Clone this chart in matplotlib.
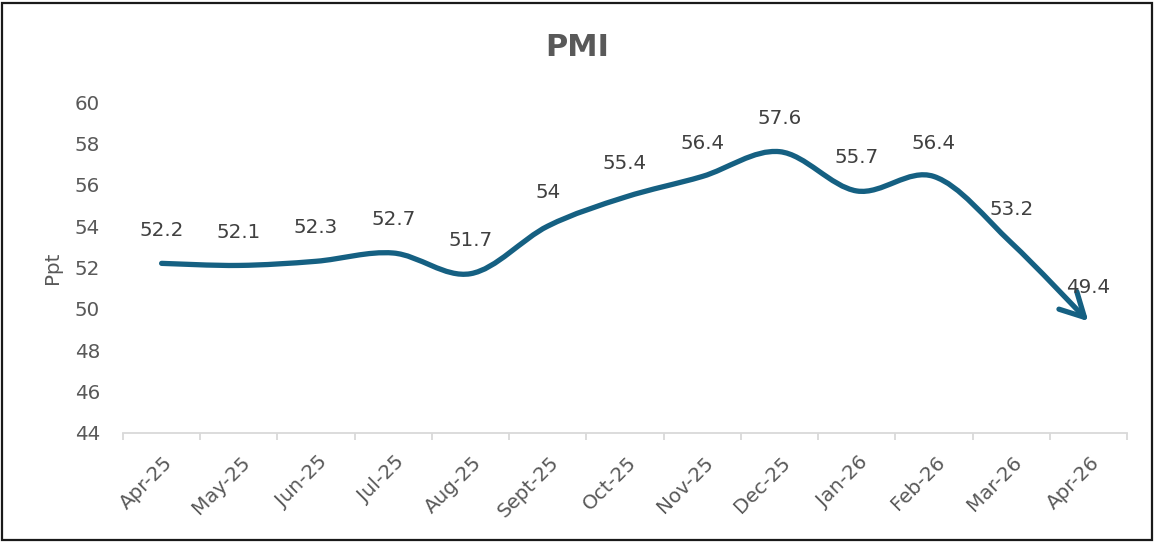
import numpy as np
import matplotlib
matplotlib.use("Agg")
import matplotlib.pyplot as plt
from matplotlib.path import Path
from matplotlib.patches import FancyArrowPatch, Rectangle
from matplotlib.transforms import ScaledTranslation

MONTHS = ["Apr-25", "May-25", "Jun-25", "Jul-25", "Aug-25", "Sept-25", "Oct-25",
          "Nov-25", "Dec-25", "Jan-26", "Feb-26", "Mar-26", "Apr-26"]
PMI = [52.2, 52.1, 52.3, 52.7, 51.7, 54, 55.4, 56.4, 57.6, 55.7, 56.4, 53.2, 49.4]
Y_TICKS = [44, 46, 48, 50, 52, 54, 56, 58, 60]

LINE_COLOR = "#156082"
TEXT_GREY = "#595959"
LABEL_GREY = "#404040"
AXIS_GREY = "#D9D9D9"
FS = 14.3


def smooth_path(xs, ys):
    # Excel style smoothed line: cubic bezier, catmull-rom control points
    pts = np.column_stack([xs, ys]).astype(float)
    padded = np.vstack([pts[0], pts, pts[-1]])
    verts = [pts[0]]
    codes = [Path.MOVETO]
    for i in range(len(pts) - 1):
        p_prev, p0, p1, p_next = padded[i], padded[i + 1], padded[i + 2], padded[i + 3]
        c1 = p0 + (p1 - p_prev) / 6.0
        c2 = p1 - (p_next - p0) / 6.0
        verts += [c1, c2, p1]
        codes += [Path.CURVE4] * 3
    return Path(np.array(verts), codes)


fig = plt.figure(figsize=(11.55, 5.43), dpi=100)
ax = fig.add_axes([123 / 1155, 110 / 543, 1004 / 1155, 331 / 543])

x = np.arange(len(MONTHS))
ax.set_xlim(-0.5, len(MONTHS) - 0.5)
ax.set_ylim(44, 60)

path = smooth_path(x, PMI)
arrow = FancyArrowPatch(path=path, arrowstyle="->,head_length=17,head_width=9",
                        mutation_scale=1, color=LINE_COLOR, linewidth=3.8,
                        capstyle="round", joinstyle="round",
                        transform=ax.transData, clip_on=False)
ax.add_patch(arrow)

for xi, v in zip(x, PMI):
    ax.annotate(f"{v:g}", (xi, v), xytext=(0, 24), textcoords="offset points",
                ha="center", va="center", fontsize=FS, color=LABEL_GREY,
                annotation_clip=False)

# axes styling
for side in ["top", "right", "left"]:
    ax.spines[side].set_visible(False)
ax.spines["bottom"].set_color(AXIS_GREY)
ax.spines["bottom"].set_linewidth(1.3)

ax.set_yticks(Y_TICKS)
ax.tick_params(axis="y", length=0, pad=16.5, labelsize=FS, labelcolor=TEXT_GREY)

ax.set_xticks(x)
ax.set_xticklabels(MONTHS)
ax.set_xticks(np.arange(-0.5, len(MONTHS)), minor=True)
ax.tick_params(axis="x", which="major", length=0, pad=19, labelsize=FS, labelcolor=TEXT_GREY)
ax.tick_params(axis="x", which="minor", length=5, width=1.3, color=AXIS_GREY, direction="out")
shift = ScaledTranslation(0.08, 0, fig.dpi_scale_trans)
for lab in ax.get_xticklabels():
    lab.set_rotation(45)
    lab.set_ha("right")
    lab.set_va("center")
    lab.set_rotation_mode("anchor")
    lab.set_transform(lab.get_transform() + shift)

ax.set_ylabel("Ppt", fontsize=FS, color=TEXT_GREY)
ax.yaxis.set_label_coords(-0.061, 0.5)

fig.text(0.5, 1 - 47 / 543, "PMI", ha="center", va="center", fontsize=22,
         fontweight="bold", color=TEXT_GREY)

# outer frame
fig.patches.append(Rectangle((2 / 1155, 3 / 543), 1150 / 1155, 537 / 543,
                             transform=fig.transFigure, fill=False,
                             edgecolor="#1a1a1a", linewidth=1.6))

fig.savefig("out.png", dpi=100, facecolor="white")
